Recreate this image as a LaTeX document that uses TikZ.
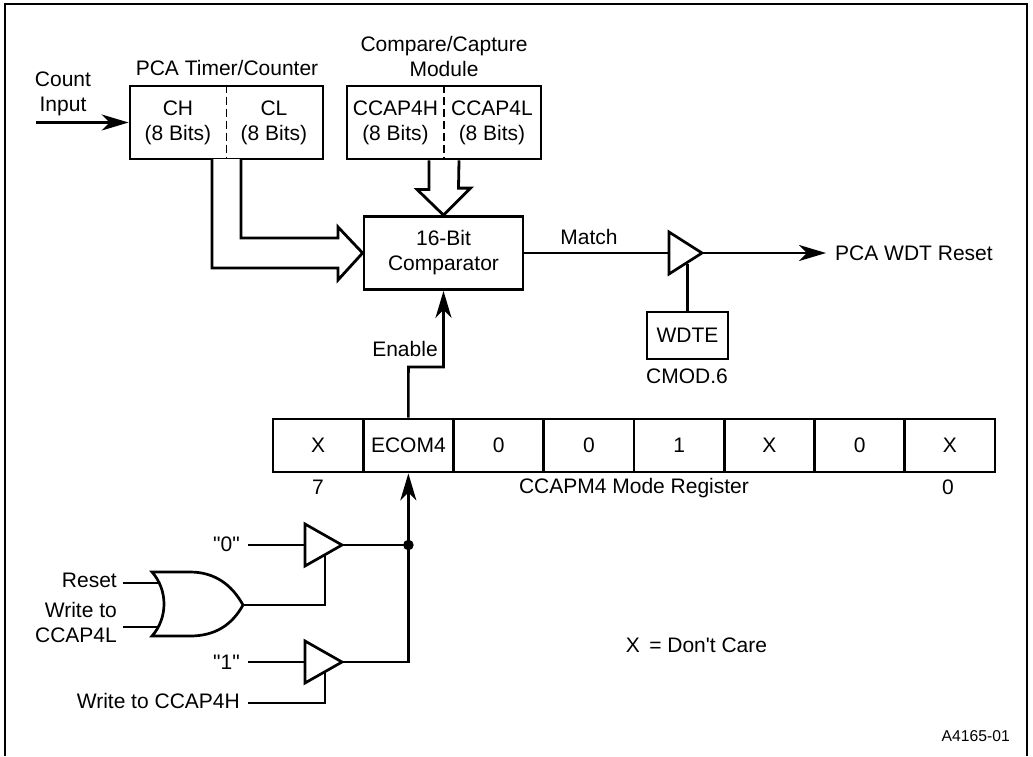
\documentclass[tikz,border=0pt]{standalone}
\usepackage{fontspec}
\setmainfont{Liberation Sans}
\newfontfamily\rawf{Liberation Sans}
\usetikzlibrary{arrows.meta,calc}
\tikzset{
  base/.style={font=\fontsize{21}{25}\selectfont},
  lbl/.style={inner sep=0pt,align=center,base},
  lblr/.style={inner sep=0pt,align=right,anchor=east,base},
  box/.style={draw,line width=2.8pt,inner sep=0pt,minimum width=#1,align=center,base},
  wire/.style={line width=2.7pt,line join=miter},
  sig/.style={wire,-{Stealth[length=27pt,width=16pt,inset=8pt]}},
  gate/.style={line width=2.7pt,fill=white,line join=miter},
  bus/.style={line width=2.8pt,fill=white,line join=miter},
}
\begin{document}
\begin{tikzpicture}[x=1pt,y=-1pt]
\useasboundingbox (0,0) rectangle (1033,756);
\fill[white] (0,0) rectangle (1033,756);
\draw[line width=1.6pt] (5,756) -- (5,4) -- (1027,4) -- (1027,756);

% top boxes
\node[box=193pt,minimum height=73pt] (pca) at (226.5,122.5) {};
\node[box=194pt,minimum height=73pt] (cap) at (444,122.5) {};
\draw[line width=1.3pt,dash pattern=on 8pt off 4pt] (pca.north) -- (pca.south);
\draw[line width=1.3pt,dash pattern=on 8pt off 4pt] (cap.north) -- (cap.south);
\node[lbl] (pcat) at (227,68) {PCA Timer/Counter};
\node[lbl] (capt) at (444,56) {Compare/Capture\\Module};
\node[lbl] (count) at (63,93.5) {Count\\Input};
\node[lbl] (ch) at (178,122.5) {CH\\(8 Bits)};
\node[lbl] (cl) at (274,122.5) {CL\\(8 Bits)};
\node[lbl] (cch) at (395.5,122.5) {CCAP4H\\(8 Bits)};
\node[lbl] (ccl) at (492,122.5) {CCAP4L\\(8 Bits)};
\coordinate (cin) at (36,122.5);
\draw[sig] (cin) -- (cin -| pca.west);

% comparator
\node[box=159pt,minimum height=73pt] (cmp) at (443.5,253) {16-Bit\\Comparator};

% double arrows
\draw[bus] ($(cap.south)+(-15,0)$) -- ++(0,29) -- ++(-12,0) -- (cmp.north) -- ++(27,-27) -- ++(-12,0) -- ($(cap.south)+(15,0)$);
\coordinate (chd) at (212,159);
\coordinate (cld) at (241,159);
\draw[bus] (cld) |- (338,238) -- (338,227) -- (cmp.west) -- (338,280) -- (338,268) -| (chd);

% match gate
\coordinate (g1a) at (669,232);
\coordinate (g1b) at (669,274);
\coordinate (g1t) at (702,253);
\coordinate (g1o) at (826,253);
\draw[wire] (cmp.east) -- (g1t -| g1a);
\node[lbl] (match) at (589,237) {Match};
\node[lblr,anchor=west] (wdtout) at (835,253) {PCA WDT Reset};
\draw[sig] (g1t) -- (g1o);
\node[box=81pt,minimum height=47pt] (wdte) at (687.5,335.5) {WDTE};
\node[lbl] (cmod) at (687,376) {CMOD.6};
\draw[wire] (wdte.north) -- (687.5,264);
\draw[gate] (g1a) -- (g1b) -- (g1t) -- cycle;

% register
\foreach \i/\t/\n in {0/X/r7,1/ECOM4/r6,2/0/r5,3/0/r4,4/1/r3,5/X/r2,6/0/r1,7/X/r0}{
  \node[box=90.25pt,minimum height=53pt] (\n) at ({318.1+90.25*\i},445.5) {\t};
}
\node[lbl] (n7) at (318,487) {7};
\node[lbl] (regt) at (634,488) {CCAPM4 Mode Register};
\node[lbl] (n0) at (948,487) {0};

% enable
\node[lbl] (en) at (405,349) {Enable};
\draw[sig] (r6.north) -- (408.4,367) -| (cmp.south);

% lower logic
\coordinate (dot) at (408.4,545);
\coordinate (t0) at (342,545);
\coordinate (t1) at (342,662);
\draw[sig] (t1) -| (r6.south);
\draw[wire] (t0) -- (dot);
\fill (dot) circle (5.3pt);

\node[lbl,anchor=east] (q0) at (240,544) {\rawf "0"};
\node[lbl,anchor=east] (q1) at (240,662) {\rawf "1"};
\node[lblr] (wh) at (240,701) {Write to CCAP4H};
\node[lblr] (rst) at (117,580) {Reset};
\node[lblr] (wl) at (117,622) {Write to\\CCAP4L};

\coordinate (i0) at (248,545);
\coordinate (i1) at (248,662);
\coordinate (iw) at (248,703);
\coordinate (ir) at (123,583);
\coordinate (il) at (123,627);
\draw[wire] (i0) -- (305,545);
\draw[wire] (i1) -- (305,662);
\draw[wire] (iw) -| (325,672);
\coordinate (ort) at (243,605);
\draw[wire] (ort) -| (325,555);
\draw[wire] (ir) -- (160,583);
\draw[wire] (il) -- (160,627);
\draw[gate] (152,572) -- (190,572) .. controls (215,572) and (232,585) .. (ort)
  .. controls (232,625) and (215,636) .. (190,636) -- (152,636)
  .. controls (168,618) and (168,590) .. (152,572) -- cycle;
\draw[gate] (305,524) -- (305,566) -- (t0) -- cycle;
\draw[gate] (305,641) -- (305,683) -- (t1) -- cycle;

\node[lbl] (dc) at (696.5,645) {\rawf X\hspace{3.5pt} = Don't Care};
\node[inner sep=0pt,anchor=east,font=\fontsize{15.7}{18}\selectfont] (fig) at (1010,736) {A4165-01};
\end{tikzpicture}
\end{document}
